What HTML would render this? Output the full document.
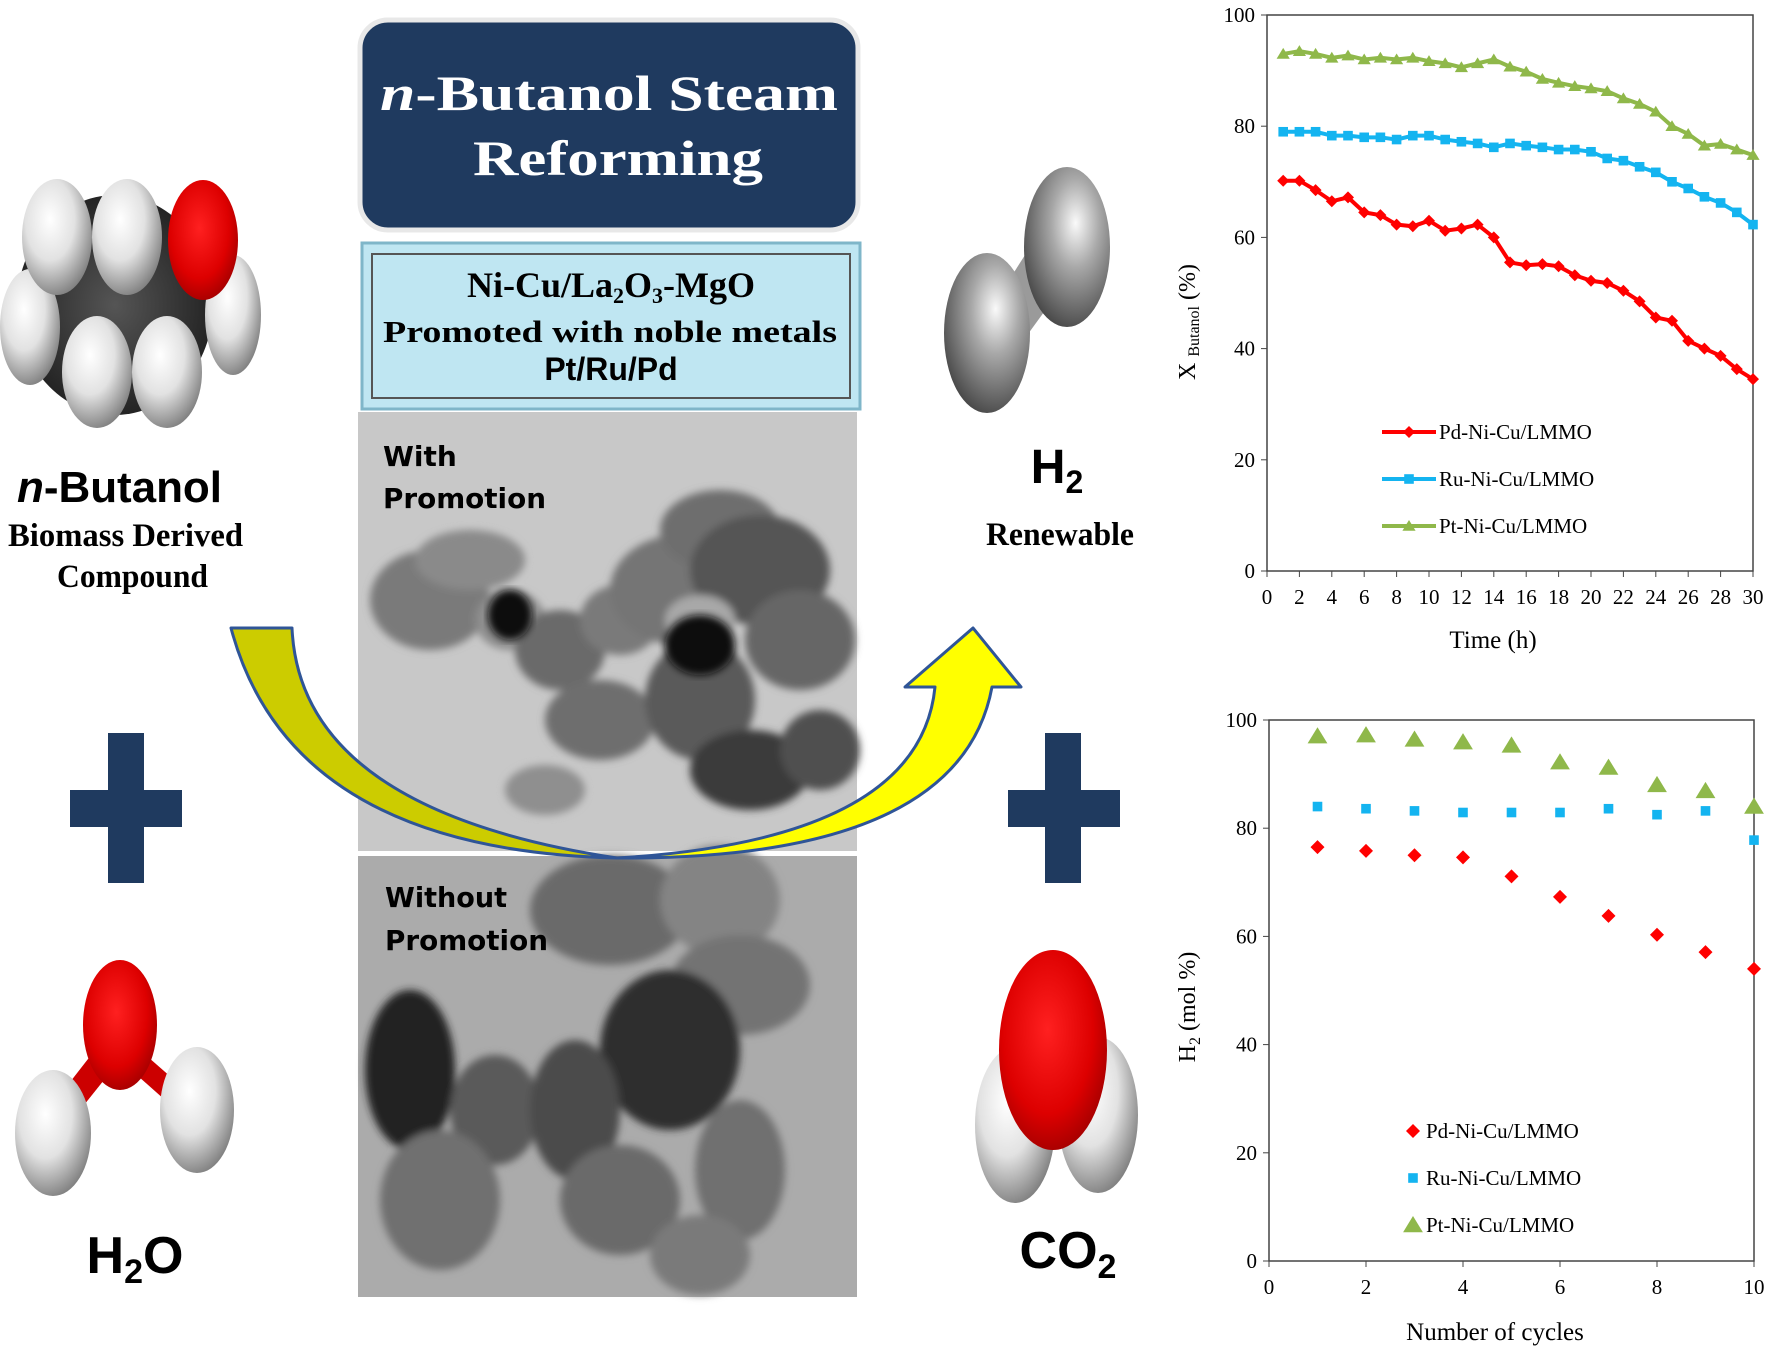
<!DOCTYPE html>
<html><head><meta charset="utf-8"><style>
html,body{margin:0;padding:0;background:#fff;}
svg{display:block;}
text{font-family:"Liberation Serif",serif;}
</style></head><body>
<svg id="root" width="1772" height="1353" viewBox="0 0 1772 1353" xmlns="http://www.w3.org/2000/svg">
<defs>
<radialGradient id="gw" cx="40%" cy="35%" r="70%"><stop offset="0" stop-color="#fff"/><stop offset="0.5" stop-color="#e2e2e2"/><stop offset="1" stop-color="#7a7a7a"/></radialGradient>
<radialGradient id="gr" cx="45%" cy="40%" r="70%"><stop offset="0" stop-color="#ff2020"/><stop offset="0.6" stop-color="#dd0000"/><stop offset="1" stop-color="#900000"/></radialGradient>
<radialGradient id="gd" cx="50%" cy="50%" r="60%"><stop offset="0" stop-color="#555"/><stop offset="1" stop-color="#1a1a1a"/></radialGradient>
<radialGradient id="gh" cx="60%" cy="35%" r="70%"><stop offset="0" stop-color="#fafafa"/><stop offset="0.4" stop-color="#a8a8a8"/><stop offset="1" stop-color="#444"/></radialGradient>
<filter id="blur"><feGaussianBlur stdDeviation="4"/></filter>
</defs>

<!-- Butanol molecule -->
<g>
<ellipse cx="115" cy="305" rx="98" ry="110" fill="url(#gd)"/>
<ellipse cx="30" cy="327" rx="30" ry="58" fill="url(#gw)"/>
<ellipse cx="233" cy="315" rx="28" ry="60" fill="url(#gw)"/>
<ellipse cx="203" cy="240" rx="35" ry="60" fill="url(#gr)"/>
<ellipse cx="57" cy="237" rx="35" ry="58" fill="url(#gw)"/>
<ellipse cx="127" cy="237" rx="35" ry="58" fill="url(#gw)"/>
<ellipse cx="97" cy="372" rx="35" ry="56" fill="url(#gw)"/>
<ellipse cx="167" cy="372" rx="35" ry="56" fill="url(#gw)"/>
</g>
<text x="17" y="502" font-weight="bold" font-size="44" textLength="205" style="font-family:'Liberation Sans',sans-serif"><tspan font-style="italic">n</tspan>-Butanol</text>
<text x="8" y="546" font-weight="bold" font-size="33" textLength="235" lengthAdjust="spacingAndGlyphs">Biomass Derived</text>
<text x="57" y="587" font-weight="bold" font-size="33" textLength="151" lengthAdjust="spacingAndGlyphs">Compound</text>

<g fill="#1f3a5f">
<rect x="108" y="733" width="36" height="150"/><rect x="70" y="790" width="112" height="37"/>
</g>
<g fill="#1f3a5f">
<rect x="1045" y="733" width="36" height="150"/><rect x="1008" y="790" width="112" height="37"/>
</g>

<!-- Water -->
<g>
<polygon points="95,1050 120,1060 80,1110 60,1095" fill="#cc0000"/>
<polygon points="140,1050 120,1060 165,1100 180,1085" fill="#cc0000"/>
<ellipse cx="53" cy="1133" rx="38" ry="63" fill="url(#gw)"/>
<ellipse cx="197" cy="1110" rx="37" ry="63" fill="url(#gw)"/>
<ellipse cx="120" cy="1025" rx="37" ry="65" fill="url(#gr)"/>
</g>
<text x="135" y="1273" text-anchor="middle" font-weight="bold" font-size="52" style="font-family:'Liberation Sans',sans-serif">H<tspan font-size="34" dy="10">2</tspan><tspan dy="-10">O</tspan></text>

<!-- H2 -->
<g>
<polygon points="1025,255 1060,290 1020,345 990,310" fill="#9a9a9a"/>
<ellipse cx="1067" cy="247" rx="43" ry="80" fill="url(#gh)"/>
<ellipse cx="987" cy="333" rx="43" ry="80" fill="url(#gh)"/>
</g>
<text x="1057" y="483" text-anchor="middle" font-weight="bold" font-size="48" style="font-family:'Liberation Sans',sans-serif">H<tspan font-size="32" dy="10">2</tspan></text>
<text x="986" y="545" font-weight="bold" font-size="33" textLength="148" lengthAdjust="spacingAndGlyphs">Renewable</text>

<!-- CO2 -->
<g>
<ellipse cx="1015" cy="1125" rx="40" ry="78" fill="url(#gw)"/>
<ellipse cx="1098" cy="1115" rx="40" ry="78" fill="url(#gw)"/>
<ellipse cx="1053" cy="1050" rx="54" ry="100" fill="url(#gr)"/>
</g>
<text x="1068" y="1268" text-anchor="middle" font-weight="bold" font-size="52" style="font-family:'Liberation Sans',sans-serif">CO<tspan font-size="34" dy="10">2</tspan></text>

<!-- Title box -->
<rect x="360" y="20" width="498" height="210" rx="28" fill="#1f3a5f" stroke="#e8e8e8" stroke-width="5"/>
<text x="609" y="110" text-anchor="middle" fill="#fff" font-weight="bold" font-size="50" textLength="458" lengthAdjust="spacingAndGlyphs"><tspan font-style="italic">n</tspan>-Butanol Steam</text>
<text x="618" y="175" text-anchor="middle" fill="#fff" font-weight="bold" font-size="50" textLength="290" lengthAdjust="spacingAndGlyphs">Reforming</text>

<!-- Catalyst box -->
<rect x="362" y="243" width="498" height="166" fill="#bfe6f2" stroke="#7fb6c9" stroke-width="3"/>
<rect x="372" y="254" width="478" height="144" fill="none" stroke="#555" stroke-width="2"/>
<text x="611" y="297" text-anchor="middle" font-weight="bold" font-size="36">Ni-Cu/La<tspan font-size="22" dy="6">2</tspan><tspan dy="-6">O</tspan><tspan font-size="22" dy="6">3</tspan><tspan dy="-6">-MgO</tspan></text>
<text x="383" y="342" font-weight="bold" font-size="31" textLength="454" lengthAdjust="spacingAndGlyphs">Promoted with noble metals</text>
<text x="611" y="380" text-anchor="middle" font-weight="bold" font-size="32" style="font-family:'Liberation Sans',sans-serif">Pt/Ru/Pd</text>

<!-- TEM upper -->
<g>
<rect x="358" y="412" width="499" height="439" fill="#c8c8c8"/>
<g filter="url(#blur)">
<ellipse cx="430" cy="600" rx="60" ry="50" fill="#7a7a7a"/>
<ellipse cx="470" cy="560" rx="55" ry="30" fill="#8a8a8a"/>
<ellipse cx="510" cy="620" rx="35" ry="30" fill="#8e8e8e"/>
<ellipse cx="560" cy="650" rx="45" ry="40" fill="#6a6a6a"/>
<ellipse cx="600" cy="720" rx="55" ry="40" fill="#6e6e6e"/>
<ellipse cx="545" cy="790" rx="40" ry="25" fill="#8f8f8f"/>
<ellipse cx="620" cy="620" rx="40" ry="35" fill="#7a7a7a"/>
<ellipse cx="680" cy="590" rx="70" ry="55" fill="#757575"/>
<ellipse cx="720" cy="530" rx="60" ry="40" fill="#6e6e6e"/>
<ellipse cx="760" cy="570" rx="70" ry="55" fill="#555"/>
<ellipse cx="800" cy="640" rx="55" ry="50" fill="#666"/>
<ellipse cx="700" cy="700" rx="55" ry="60" fill="#5a5a5a"/>
<ellipse cx="750" cy="770" rx="60" ry="40" fill="#3a3a3a"/>
<ellipse cx="820" cy="750" rx="40" ry="40" fill="#505050"/>
<ellipse cx="700" cy="620" rx="35" ry="25" fill="#a8a8a8"/>
</g>
<ellipse cx="510" cy="615" rx="22" ry="25" fill="#111" filter="url(#blur)"/>
<ellipse cx="700" cy="645" rx="35" ry="30" fill="#111" filter="url(#blur)"/>
<text x="383" y="466" font-weight="bold" font-size="28" style="font-family:'DejaVu Sans',sans-serif">With</text>
<text x="383" y="508" font-weight="bold" font-size="28" style="font-family:'DejaVu Sans',sans-serif" textLength="163" lengthAdjust="spacingAndGlyphs">Promotion</text>
</g>

<!-- TEM lower -->
<g>
<rect x="358" y="856" width="499" height="441" fill="#ababab"/>
<g filter="url(#blur)">
<ellipse cx="610" cy="910" rx="80" ry="55" fill="#6a6a6a"/>
<ellipse cx="720" cy="900" rx="60" ry="55" fill="#848484"/>
<ellipse cx="740" cy="985" rx="70" ry="50" fill="#737373"/>
<ellipse cx="670" cy="1050" rx="70" ry="80" fill="#2e2e2e"/>
<ellipse cx="410" cy="1070" rx="45" ry="80" fill="#202020"/>
<ellipse cx="495" cy="1110" rx="45" ry="55" fill="#5a5a5a"/>
<ellipse cx="575" cy="1110" rx="45" ry="70" fill="#4c4c4c"/>
<ellipse cx="440" cy="1200" rx="60" ry="70" fill="#707070"/>
<ellipse cx="620" cy="1200" rx="60" ry="55" fill="#6a6a6a"/>
<ellipse cx="740" cy="1170" rx="45" ry="70" fill="#707070"/>
<ellipse cx="700" cy="1255" rx="50" ry="40" fill="#7a7a7a"/>
</g>
<text x="385" y="907" font-weight="bold" font-size="28" style="font-family:'DejaVu Sans',sans-serif" textLength="122" lengthAdjust="spacingAndGlyphs">Without</text>
<text x="385" y="950" font-weight="bold" font-size="28" style="font-family:'DejaVu Sans',sans-serif" textLength="163" lengthAdjust="spacingAndGlyphs">Promotion</text>
</g>

<!-- Arrow -->
<g stroke="#2f5597" stroke-width="3" stroke-linejoin="round">
<path d="M231,628 L292,628 Q300,810 617,858 Q290,850 231,628 Z" fill="#cccc00"/>
<path d="M617,858 Q920,840 935,687 L905,687 L973,628 L1021,687 L992,687 Q960,860 617,858 Z" fill="#ffff00"/>
</g>

<g id="chart1"></g>
<g id="chart2"></g>
</svg>
<script>
const timeHours = [1,2,3,4,5,6,7,8,9,10,11,12,13,14,15,16,17,18,19,20,21,22,23,24,25,26,27,28,29,30];
const ptConversion = [93,93.5,93,92.3,92.7,92,92.3,92,92.3,91.7,91.3,90.6,91.3,92,90.7,89.8,88.5,87.8,87.2,86.8,86.3,85,84,82.6,80,78.6,76.5,76.8,75.8,74.8];
const ruConversion = [79,79,79,78.3,78.3,78,78,77.6,78.3,78.3,77.6,77.2,76.9,76.2,76.9,76.5,76.2,75.8,75.8,75.4,74.2,73.8,72.7,71.7,70,68.8,67.3,66.2,64.5,62.3];
const pdConversion = [70.2,70.2,68.5,66.5,67.2,64.5,64,62.3,62,63,61.2,61.6,62.3,60,55.5,55,55.2,54.8,53.2,52.2,51.8,50.4,48.5,45.6,45,41.4,40,38.7,36.3,34.5];
const cycles = [1,2,3,4,5,6,7,8,9,10];
const ptH2 = [97,97.2,96.4,95.9,95.3,92.2,91.2,88,86.9,84];
const ruH2 = [84,83.6,83.2,82.9,82.9,82.9,83.6,82.5,83.2,77.8];
const pdH2 = [76.5,75.8,75,74.6,71.1,67.3,63.8,60.3,57.1,54];
const yTicks = [0,20,40,60,80,100];
const xTicks1 = [0,2,4,6,8,10,12,14,16,18,20,22,24,26,28,30];
const xTicks2 = [0,2,4,6,8,10];
const seriesNames = ["Pd-Ni-Cu/LMMO","Ru-Ni-Cu/LMMO","Pt-Ni-Cu/LMMO"];

const NS="http://www.w3.org/2000/svg";
function mk(parent,tag,attrs,txt){const e=document.createElementNS(NS,tag);for(const k in attrs)e.setAttribute(k,attrs[k]);if(txt!==undefined)e.textContent=txt;parent.appendChild(e);return e;}
function marker(g,type,x,y,color,s){
  if(type==="d") return mk(g,"polygon",{points:`${x},${y-s} ${x+s},${y} ${x},${y+s} ${x-s},${y}`,fill:color});
  if(type==="s") return mk(g,"rect",{x:x-s*0.8,y:y-s*0.8,width:s*1.6,height:s*1.6,fill:color});
  return mk(g,"polygon",{points:`${x},${y-s} ${x+s*1.1},${y+s*0.8} ${x-s*1.1},${y+s*0.8}`,fill:color});
}
function axes(g,X,Y,xt,x0,x1,y0,y1){
  mk(g,"rect",{x:x0,y:y1,width:x1-x0,height:y0-y1,fill:"none",stroke:"#444","stroke-width":1.5});
  yTicks.forEach(v=>{mk(g,"line",{x1:x0-6,x2:x0,y1:Y(v),y2:Y(v),stroke:"#444"});
    const l=mk(g,"text",{x:x0-12,y:Y(v)+7,"text-anchor":"end","font-size":21},v);
    
    });
  xt.forEach(v=>{mk(g,"line",{x1:X(v),x2:X(v),y1:y0,y2:y0+6,stroke:"#444"});
    const l=mk(g,"text",{x:X(v),y:y0+33,"text-anchor":"middle","font-size":21},v);
    
    });
}
(function(){
  const g=document.getElementById("chart1");
  const x0=1267,x1=1753,y0=571,y1=15;
  const X=v=>x0+(v-0)/30*(x1-x0), Y=v=>y0-(v/100)*(y0-y1);
  axes(g,X,Y,xTicks1,x0,x1,y0,y1);
  const sets=[[pdConversion,"#ff0000","d"],[ruConversion,"#14b4f0","s"],[ptConversion,"#8fb84a","t"]];
  sets.forEach(([d,c,m],i)=>{
    const p=mk(g,"polyline",{points:d.map((v,j)=>X(timeHours[j])+","+Y(v)).join(" "),fill:"none",stroke:c,"stroke-width":4});
    
    
    d.forEach((v,j)=>{const e=marker(g,m,X(timeHours[j]),Y(v),c,6);
      
      });
    const ly=432+i*47;
    mk(g,"line",{x1:1382,x2:1436,y1:ly,y2:ly,stroke:c,"stroke-width":4});
    marker(g,m,1409,ly,c,6);
    const t=mk(g,"text",{x:1439,y:ly+7,"font-size":21},seriesNames[i]);
    
    
  });
  const yt=mk(g,"text",{transform:"translate(1195,322) rotate(-90)","text-anchor":"middle","font-size":24});
  yt.innerHTML='X <tspan font-size="16" dy="4">Butanol</tspan><tspan dy="-4"> (%)</tspan>';
  
  
  const xt=mk(g,"text",{x:1493,y:648,"text-anchor":"middle","font-size":25},"Time  (h)");
  
  
})();
(function(){
  const g=document.getElementById("chart2");
  const x0=1269,x1=1754,y0=1261,y1=720;
  const X=v=>x0+(v/10)*(x1-x0), Y=v=>y0-(v/100)*(y0-y1);
  axes(g,X,Y,xTicks2,x0,x1,y0,y1);
  const sets=[[pdH2,"#ff0000","d",7],[ruH2,"#14b4f0","s",6],[ptH2,"#8fb84a","t",9]];
  sets.forEach(([d,c,m,s],i)=>{
    d.forEach((v,j)=>{const e=marker(g,m,X(cycles[j]),Y(v),c,s);
      
      });
    const ly=1131+i*47;
    marker(g,m,1413,ly,c,s);
    const t=mk(g,"text",{x:1426,y:ly+7,"font-size":21},seriesNames[i]);
    
    
  });
  const yt=mk(g,"text",{transform:"translate(1195,1007) rotate(-90)","text-anchor":"middle","font-size":24});
  yt.innerHTML='H<tspan font-size="16" dy="5">2</tspan><tspan dy="-5"> (mol %)</tspan>';
  
  
  const xt=mk(g,"text",{x:1495,y:1340,"text-anchor":"middle","font-size":25},"Number  of  cycles");
  
  
})();
</script>
</body></html>
